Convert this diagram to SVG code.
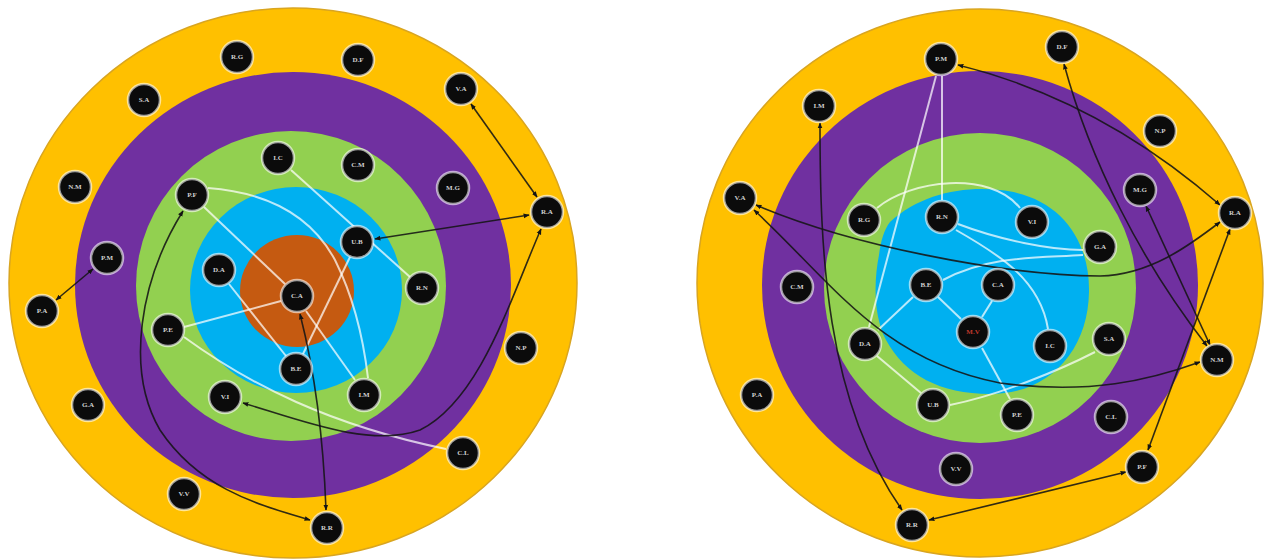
<svg xmlns="http://www.w3.org/2000/svg" width="1270" height="560" viewBox="0 0 1270 560">
<style>
.bg{fill:#ffffff}
.y{fill:#FFC000;stroke:#D9A520;stroke-width:1.5}
.p{fill:#7030A0}
.g{fill:#92D050}
.b{fill:#00B0F0}
.o{fill:#C55A11}
.node circle{fill:#0b0b0b;stroke:#ffffff;stroke-opacity:0.6;stroke-width:2.5}
.node text{font-family:"Liberation Serif",serif;font-size:7px;font-weight:bold;fill:#d0d0d0;text-anchor:middle;dominant-baseline:central}
.node text.red{fill:#c0392b}
.w{fill:none;stroke:#ffffff;stroke-opacity:0.72;stroke-width:2}
.d{fill:none;stroke:#141414;stroke-opacity:0.88;stroke-width:1.6;marker-start:url(#ah);marker-end:url(#ah)}
</style>
<defs>
<marker id="ah" viewBox="0 0 10 10" refX="9" refY="5" markerWidth="6" markerHeight="6" orient="auto-start-reverse" markerUnits="userSpaceOnUse">
<path d="M0,1 L10,5 L0,9 Z" fill="#141414"/>
</marker>
</defs>
<rect class="bg" x="0" y="0" width="1270" height="560"/>

<g id="rings-left">
<ellipse class="y" cx="293" cy="283" rx="284" ry="275"/>
<ellipse class="p" cx="293" cy="285" rx="218" ry="213"/>
<ellipse class="g" cx="291" cy="286" rx="155" ry="155"/>
<ellipse class="b" cx="296" cy="290" rx="106" ry="103"/>
<ellipse class="o" cx="297" cy="291" rx="57" ry="56"/>
</g>
<g id="rings-right">
<ellipse class="y" cx="980" cy="283" rx="283" ry="274"/>
<ellipse class="p" cx="980" cy="285" rx="218" ry="214"/>
<ellipse class="g" cx="980" cy="288" rx="156" ry="155"/>
<path class="b" d="M890,222 C920,195 960,186 1000,190 C1060,196 1090,240 1089,292 C1088,350 1050,394 990,394 C940,394 905,375 886,340 C873,315 874,280 879,255 C881,240 884,230 890,222 Z"/>
</g>

<g id="connectors">
<!-- left white -->
<path class="w" d="M208,188 Q300,195 335,260 Q360,310 368,378"/>
<path class="w" d="M291,170 L410,277"/>
<path class="w" d="M350,257 L303,354"/>
<path class="w" d="M281,301 L184,327"/>
<path class="w" d="M229,284 L286,356"/>
<path class="w" d="M306,311 L355,380"/>
<path class="w" d="M204,207 L285,284"/>
<path class="w" d="M184,337 C250,385 330,425 446,449"/>
<!-- left dark -->
<path class="d" d="M471,104 L537,197"/>
<path class="d" d="M529,215 L375,239"/>
<path class="d" d="M541,229 C510,300 480,400 420,430 C370,448 300,420 243,403"/>
<path class="d" d="M300,314 Q322,400 326,510"/>
<path class="d" d="M183,211 C140,280 125,370 160,430 C200,490 260,505 310,520"/>
<path class="d" d="M93,269 L56,300"/>
<!-- right white -->
<path class="w" d="M942,76 L942,200"/>
<path class="w" d="M936,76 L869,327"/>
<path class="w" d="M877,208 C910,180 990,170 1020,208"/>
<path class="w" d="M958,224 C1000,240 1050,250 1083,250"/>
<path class="w" d="M956,230 C1000,255 1040,280 1048,329"/>
<path class="w" d="M1083,255 C1040,258 990,255 943,280"/>
<path class="w" d="M913,297 L878,330"/>
<path class="w" d="M938,297 L961,319"/>
<path class="w" d="M992,301 L982,317"/>
<path class="w" d="M982,348 L1010,399"/>
<path class="w" d="M877,356 L921,393"/>
<path class="w" d="M950,405 C1000,395 1060,370 1095,352"/>
<!-- right dark -->
<path class="d" d="M958,65 Q1100,100 1220,205"/>
<path class="d" d="M1064,64 C1090,160 1140,260 1207,346"/>
<path class="d" d="M1146,206 L1210,345"/>
<path class="d" d="M1230,229 L1148,450"/>
<path class="d" d="M929,520 L1126,472"/>
<path class="d" d="M820,123 C820,250 825,400 902,510"/>
<path class="d" d="M756,205 C850,245 1000,275 1100,276 C1150,275 1190,245 1220,222"/>
<path class="d" d="M754,210 C830,280 880,360 1000,383 C1090,395 1150,380 1200,362"/>
</g>

<!-- left nodes -->
<g id="L-RG" class="node"><circle cx="237" cy="57" r="16"/><text x="237" y="57">R.G</text></g>
<g id="L-DF" class="node"><circle cx="358" cy="60" r="16"/><text x="358" y="60">D.F</text></g>
<g id="L-SA" class="node"><circle cx="144" cy="100" r="16"/><text x="144" y="100">S.A</text></g>
<g id="L-VA" class="node"><circle cx="461" cy="89" r="16"/><text x="461" y="89">V.A</text></g>
<g id="L-NM" class="node"><circle cx="75" cy="187" r="16"/><text x="75" y="187">N.M</text></g>
<g id="L-RA" class="node"><circle cx="547" cy="212" r="16"/><text x="547" y="212">R.A</text></g>
<g id="L-PM" class="node"><circle cx="107" cy="258" r="16"/><text x="107" y="258">P.M</text></g>
<g id="L-PA" class="node"><circle cx="42" cy="311" r="16"/><text x="42" y="311">P.A</text></g>
<g id="L-NP" class="node"><circle cx="521" cy="348" r="16"/><text x="521" y="348">N.P</text></g>
<g id="L-GA" class="node"><circle cx="88" cy="405" r="16"/><text x="88" y="405">G.A</text></g>
<g id="L-CL" class="node"><circle cx="463" cy="453" r="16"/><text x="463" y="453">C.L</text></g>
<g id="L-VV" class="node"><circle cx="184" cy="494" r="16"/><text x="184" y="494">V.V</text></g>
<g id="L-RR" class="node"><circle cx="327" cy="528" r="16"/><text x="327" y="528">R.R</text></g>
<g id="L-MG" class="node"><circle cx="453" cy="188" r="16"/><text x="453" y="188">M.G</text></g>
<g id="L-IC" class="node"><circle cx="278" cy="158" r="16"/><text x="278" y="158">I.C</text></g>
<g id="L-CM" class="node"><circle cx="358" cy="165" r="16"/><text x="358" y="165">C.M</text></g>
<g id="L-PF" class="node"><circle cx="192" cy="195" r="16"/><text x="192" y="195">P.F</text></g>
<g id="L-RN" class="node"><circle cx="422" cy="288" r="16"/><text x="422" y="288">R.N</text></g>
<g id="L-PE" class="node"><circle cx="168" cy="330" r="16"/><text x="168" y="330">P.E</text></g>
<g id="L-VI" class="node"><circle cx="225" cy="397" r="16"/><text x="225" y="397">V.I</text></g>
<g id="L-IM" class="node"><circle cx="364" cy="395" r="16"/><text x="364" y="395">I.M</text></g>
<g id="L-UB" class="node"><circle cx="357" cy="242" r="16"/><text x="357" y="242">U.B</text></g>
<g id="L-DA" class="node"><circle cx="219" cy="270" r="16"/><text x="219" y="270">D.A</text></g>
<g id="L-BE" class="node"><circle cx="296" cy="369" r="16"/><text x="296" y="369">B.E</text></g>
<g id="L-CA" class="node"><circle cx="297" cy="296" r="16"/><text x="297" y="296">C.A</text></g>

<!-- right nodes -->
<g id="R-PM" class="node"><circle cx="941" cy="59" r="16"/><text x="941" y="59">P.M</text></g>
<g id="R-DF" class="node"><circle cx="1062" cy="47" r="16"/><text x="1062" y="47">D.F</text></g>
<g id="R-IM" class="node"><circle cx="819" cy="106" r="16"/><text x="819" y="106">I.M</text></g>
<g id="R-NP" class="node"><circle cx="1160" cy="131" r="16"/><text x="1160" y="131">N.P</text></g>
<g id="R-MG" class="node"><circle cx="1140" cy="190" r="16"/><text x="1140" y="190">M.G</text></g>
<g id="R-VA" class="node"><circle cx="740" cy="198" r="16"/><text x="740" y="198">V.A</text></g>
<g id="R-RG" class="node"><circle cx="864" cy="220" r="16"/><text x="864" y="220">R.G</text></g>
<g id="R-RN" class="node"><circle cx="942" cy="217" r="16"/><text x="942" y="217">R.N</text></g>
<g id="R-VI" class="node"><circle cx="1032" cy="222" r="16"/><text x="1032" y="222">V.I</text></g>
<g id="R-GA" class="node"><circle cx="1100" cy="247" r="16"/><text x="1100" y="247">G.A</text></g>
<g id="R-RA" class="node"><circle cx="1235" cy="213" r="16"/><text x="1235" y="213">R.A</text></g>
<g id="R-CM" class="node"><circle cx="797" cy="287" r="16"/><text x="797" y="287">C.M</text></g>
<g id="R-BE" class="node"><circle cx="926" cy="285" r="16"/><text x="926" y="285">B.E</text></g>
<g id="R-CA" class="node"><circle cx="998" cy="285" r="16"/><text x="998" y="285">C.A</text></g>
<g id="R-MV" class="node"><circle cx="973" cy="332" r="16"/><text class="red" x="973" y="332">M.V</text></g>
<g id="R-DA" class="node"><circle cx="865" cy="344" r="16"/><text x="865" y="344">D.A</text></g>
<g id="R-IC" class="node"><circle cx="1050" cy="346" r="16"/><text x="1050" y="346">I.C</text></g>
<g id="R-SA" class="node"><circle cx="1109" cy="339" r="16"/><text x="1109" y="339">S.A</text></g>
<g id="R-NM" class="node"><circle cx="1217" cy="360" r="16"/><text x="1217" y="360">N.M</text></g>
<g id="R-PA" class="node"><circle cx="757" cy="395" r="16"/><text x="757" y="395">P.A</text></g>
<g id="R-UB" class="node"><circle cx="933" cy="405" r="16"/><text x="933" y="405">U.B</text></g>
<g id="R-PE" class="node"><circle cx="1017" cy="415" r="16"/><text x="1017" y="415">P.E</text></g>
<g id="R-CL" class="node"><circle cx="1111" cy="417" r="16"/><text x="1111" y="417">C.L</text></g>
<g id="R-VV" class="node"><circle cx="956" cy="469" r="16"/><text x="956" y="469">V.V</text></g>
<g id="R-PF" class="node"><circle cx="1142" cy="467" r="16"/><text x="1142" y="467">P.F</text></g>
<g id="R-RR" class="node"><circle cx="912" cy="525" r="16"/><text x="912" y="525">R.R</text></g>
</svg>
